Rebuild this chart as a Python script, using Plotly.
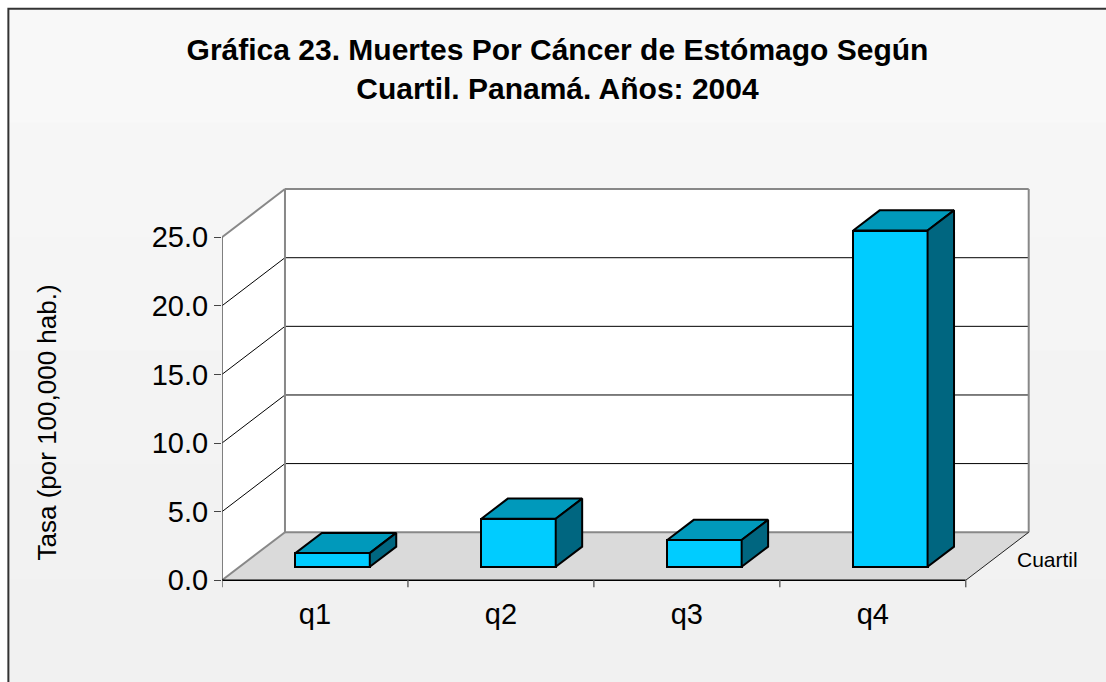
import plotly.graph_objects as go

# ---------------- data ----------------
categories = ["q1", "q2", "q3", "q4"]
tasa = [1.0, 3.5, 1.95, 24.5]
y_tick_vals = [0, 5, 10, 15, 20, 25]
y_tick_text = ["0.0", "5.0", "10.0", "15.0", "20.0", "25.0"]
title_text = "Gráfica 23. Muertes Por Cáncer de Estómago Según<br>Cuartil. Panamá. Años: 2004"
y_title = "Tasa (por 100,000 hab.)"
depth_label = "Cuartil"

# ---------------- geometry ----------------
W, H = 1106, 682
X_LEFT_PX = 221.7
BAND_PX = 186.0
Y_ZERO_PX = 580.0
UNIT_PX = 13.71
X_RIGHT_PX = 1045.0
Y_MIN, Y_MAX = -1.0, 29.6

x_min = -0.5
x_max = x_min + (X_RIGHT_PX - X_LEFT_PX) / BAND_PX
m_l = X_LEFT_PX
m_r = W - X_RIGHT_PX
m_t = Y_ZERO_PX - Y_MAX * UNIT_PX
plot_bottom = Y_ZERO_PX - Y_MIN * UNIT_PX
m_b = H - plot_bottom
pw = W - m_l - m_r
ph = plot_bottom - m_t


def px2paper(px, py):
    return (px - m_l) / pw, (plot_bottom - py) / ph


DX = 63.0 / BAND_PX      # depth offset in x units
DY = 48.0 / UNIT_PX      # depth offset in y units
n = len(categories)
x_lo, x_hi = -0.5, n - 0.5
top_v = max(y_tick_vals)

F0, F1 = 0.28, 0.70       # bar front/back depth fraction
BAR_W = 0.40
FONT = "Liberation Sans, Arial, sans-serif"

shapes = []
# background (light gray gradient) + border
bg_cols = ["#f8f8f8", "#f6f6f6", "#f5f5f5", "#f3f3f3", "#f2f2f2", "#f1f1f1"]
band_h = (H + 10 - 9) / len(bg_cols)
for k, c in enumerate(bg_cols):
    x0, y0 = px2paper(8, 9 + k * band_h)
    x1, y1 = px2paper(W + 10, 9 + (k + 1) * band_h + 1)
    shapes.append(dict(type="rect", xref="paper", yref="paper", x0=x0, y0=y0, x1=x1, y1=y1,
                       fillcolor=c, line=dict(width=0), layer="below"))
bx0, by0 = px2paper(8, 9)
bx1, by1 = px2paper(W + 10, H + 10)
shapes.append(dict(type="rect", xref="paper", yref="paper", x0=bx0, y0=by0, x1=bx1, y1=by1,
                   fillcolor="rgba(0,0,0,0)", line=dict(color="#333333", width=2), layer="below"))

# side wall
shapes.append(dict(type="path", xref="x", yref="y", layer="below",
                   path=f"M {x_lo},0 L {x_lo},{top_v} L {x_lo+DX},{top_v+DY} L {x_lo+DX},{DY} Z",
                   fillcolor="white", line=dict(width=0)))
# back wall
shapes.append(dict(type="rect", xref="x", yref="y", layer="below",
                   x0=x_lo + DX, y0=DY, x1=x_hi + DX, y1=top_v + DY,
                   fillcolor="white", line=dict(width=0)))
# floor
shapes.append(dict(type="path", xref="x", yref="y", layer="below",
                   path=f"M {x_lo},0 L {x_hi},0 L {x_hi+DX},{DY} L {x_lo+DX},{DY} Z",
                   fillcolor="#dadada", line=dict(width=0)))


def seg(x0, y0, x1, y1, color, width):
    shapes.append(dict(type="line", xref="x", yref="y", layer="below",
                       x0=x0, y0=y0, x1=x1, y1=y1, line=dict(color=color, width=width)))


# gridlines on back wall and side wall
for v in y_tick_vals[1:-1]:
    seg(x_lo + DX, v + DY, x_hi + DX, v + DY, "#000000", 1)
    seg(x_lo, v, x_lo + DX, v + DY, "#000000", 1)

gray = "#888888"
seg(x_lo + DX, DY, x_lo + DX, top_v + DY, gray, 2)           # back wall left edge
seg(x_hi + DX, DY, x_hi + DX, top_v + DY, gray, 2)           # back wall right edge
seg(x_lo + DX, top_v + DY, x_hi + DX, top_v + DY, gray, 2)   # back wall top
seg(x_lo + DX, DY, x_hi + DX, DY, gray, 2)                   # floor back edge
seg(x_lo, top_v, x_lo + DX, top_v + DY, gray, 2)             # side wall top
seg(x_lo, 0, x_lo + DX, DY, gray, 2)                         # floor left edge
seg(x_hi, 0, x_hi + DX, DY, "#222222", 1)                    # floor right edge
seg(x_lo, 0, x_lo, top_v, "#555555", 1.5)                    # value axis line
seg(x_lo, 0, x_hi, 0, "#000000", 1.5)                        # category axis line
for k in range(n + 1):
    seg(x_lo + k, 0, x_lo + k, -7.0 / UNIT_PX, "#666666", 1.5)

# ---------------- bars ----------------
fig = go.Figure()
bar_x = [i + F0 * DX for i in range(n)]
base = F0 * DY
fig.add_trace(go.Bar(x=bar_x, y=tasa, base=[base] * n, width=BAR_W,
                     marker=dict(color="#00CCFF", line=dict(color="black", width=2)),
                     showlegend=False, hoverinfo="skip"))

d = F1 - F0
tx, ty, sx, sy = [], [], [], []
for cx, v in zip(bar_x, tasa):
    xl, xr = cx - BAR_W / 2, cx + BAR_W / 2
    top = base + v
    tx += [xl, xr, xr + d * DX, xl + d * DX, xl, None]
    ty += [top, top, top + d * DY, top + d * DY, top, None]
    sx += [xr, xr, xr + d * DX, xr + d * DX, xr, None]
    sy += [base, top, top + d * DY, base + d * DY, base, None]
fig.add_trace(go.Scatter(x=tx, y=ty, mode="lines", fill="toself", fillcolor="#0099BB",
                         line=dict(color="black", width=2), showlegend=False, hoverinfo="skip"))
fig.add_trace(go.Scatter(x=sx, y=sy, mode="lines", fill="toself", fillcolor="#006680",
                         line=dict(color="black", width=2), showlegend=False, hoverinfo="skip"))

# ---------------- annotations ----------------
ax, ay = px2paper(47, 422)
cx_, cy_ = px2paper(1015, 559)
annotations = [
    dict(text=y_title, xref="paper", yref="paper", x=ax, y=ay, showarrow=False,
         textangle=-90, xanchor="center", yanchor="middle",
         font=dict(family=FONT, size=26, color="black")),
    dict(text=depth_label, xref="paper", yref="paper", x=cx_, y=cy_, showarrow=False,
         xanchor="left", yanchor="middle", font=dict(family=FONT, size=21, color="black")),
]

fig.update_layout(
    width=W, height=H,
    margin=dict(l=m_l, r=m_r, t=m_t, b=m_b, pad=0, autoexpand=False),
    paper_bgcolor="white", plot_bgcolor="rgba(0,0,0,0)",
    title=dict(text=title_text, x=557.5 / W, xanchor="center", xref="container",
               y=1 - 60 / H, yanchor="top", yref="container",
               font=dict(family=FONT, size=30, color="black", weight="bold")),
    xaxis=dict(range=[x_min, x_max], tickvals=list(range(n)), ticktext=categories,
               ticks="", showgrid=False, zeroline=False, showline=False,
               tickfont=dict(family=FONT, size=29, color="black"), fixedrange=True),
    yaxis=dict(range=[Y_MIN, Y_MAX], tickvals=y_tick_vals, ticktext=y_tick_text,
               ticks="outside", ticklen=7, tickcolor="#444444", tickwidth=1,
               showgrid=False, zeroline=False, showline=False,
               tickfont=dict(family=FONT, size=29, color="black"), fixedrange=True),
    shapes=shapes, annotations=annotations, showlegend=False, bargap=0,
)

fig.write_html("out.html", config={"displayModeBar": False},
               post_script="document.body.style.margin='0';")
